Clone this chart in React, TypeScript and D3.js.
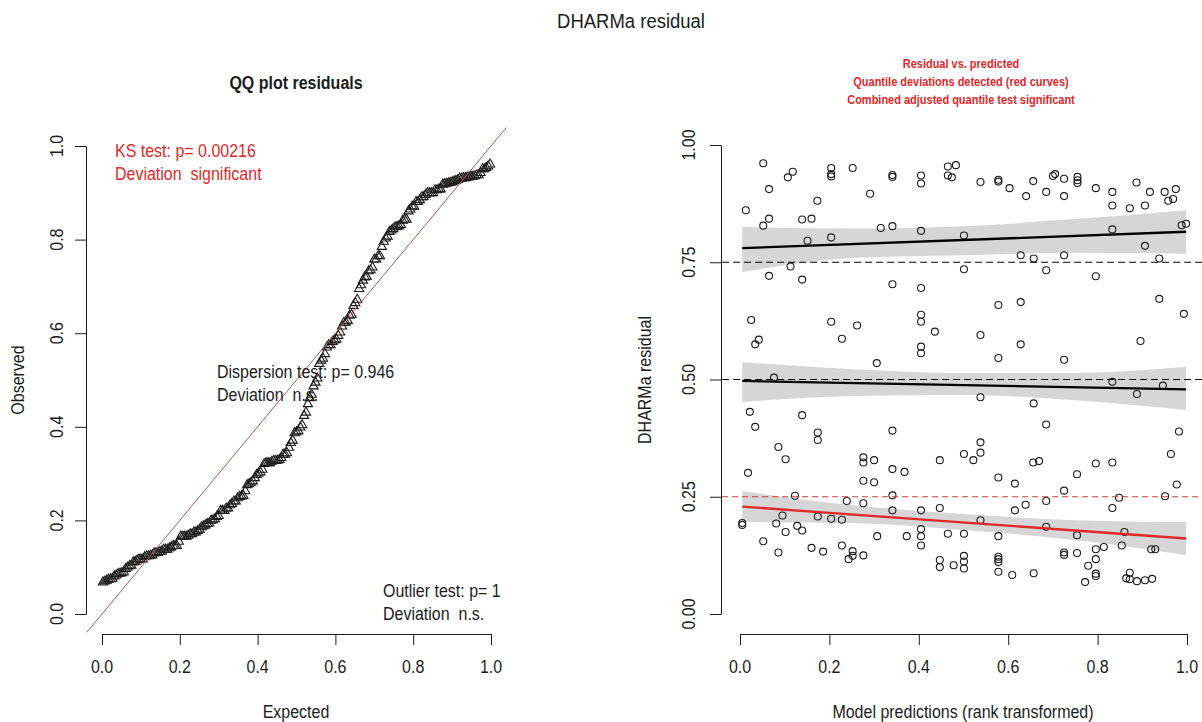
import React, { useEffect, useRef } from 'react';
import * as d3 from 'd3';

const W = 1202;
const H = 722;

// scaled residuals: [rank-transformed prediction, residual]
const residPoints: [number, number][] = [
  [0.052, 0.961], [0.118, 0.943], [0.107, 0.931], [0.204, 0.951], [0.204, 0.938], [0.204, 0.933],
  [0.252, 0.951], [0.065, 0.906], [0.291, 0.896], [0.173, 0.881], [0.013, 0.861], [0.065, 0.843],
  [0.052, 0.828], [0.139, 0.841], [0.160, 0.843], [0.315, 0.823], [0.151, 0.796], [0.204, 0.803],
  [0.113, 0.741], [0.065, 0.721], [0.139, 0.713], [0.025, 0.627], [0.204, 0.623], [0.262, 0.615],
  [0.042, 0.585], [0.034, 0.575], [0.228, 0.587], [0.306, 0.535], [0.076, 0.504],
  [0.341, 0.936], [0.341, 0.932], [0.405, 0.935], [0.405, 0.918], [0.465, 0.954], [0.483, 0.957],
  [0.465, 0.935], [0.474, 0.931], [0.538, 0.921], [0.578, 0.926], [0.578, 0.922], [0.603, 0.908],
  [0.656, 0.923], [0.640, 0.891], [0.341, 0.827], [0.405, 0.817], [0.501, 0.807], [0.628, 0.765],
  [0.657, 0.758], [0.501, 0.735], [0.341, 0.703], [0.405, 0.695], [0.578, 0.659], [0.628, 0.665],
  [0.405, 0.638], [0.405, 0.623], [0.436, 0.602], [0.538, 0.595], [0.405, 0.570], [0.405, 0.556],
  [0.628, 0.575], [0.578, 0.546],
  [0.685, 0.900], [0.700, 0.934], [0.705, 0.938], [0.725, 0.928], [0.725, 0.891], [0.755, 0.932],
  [0.755, 0.925], [0.755, 0.919], [0.796, 0.908], [0.833, 0.900], [0.833, 0.871], [0.872, 0.865],
  [0.887, 0.920], [0.906, 0.871], [0.917, 0.900], [0.950, 0.900], [0.975, 0.906], [0.958, 0.881],
  [0.969, 0.885], [0.833, 0.820], [0.988, 0.829], [0.998, 0.832], [0.906, 0.785], [0.725, 0.765],
  [0.938, 0.758], [0.685, 0.733], [0.796, 0.720], [0.938, 0.672], [0.993, 0.640], [0.896, 0.582],
  [0.725, 0.542], [0.833, 0.495], [0.946, 0.487],
  [0.022, 0.431], [0.139, 0.424], [0.034, 0.399], [0.174, 0.387], [0.174, 0.371], [0.086, 0.356],
  [0.102, 0.330], [0.276, 0.334], [0.276, 0.323], [0.300, 0.328], [0.018, 0.301], [0.276, 0.284],
  [0.300, 0.281], [0.123, 0.252], [0.239, 0.241], [0.276, 0.236], [0.095, 0.210], [0.174, 0.208],
  [0.204, 0.203], [0.228, 0.201], [0.005, 0.194], [0.005, 0.190], [0.081, 0.193], [0.128, 0.188],
  [0.139, 0.178], [0.102, 0.175], [0.307, 0.166], [0.052, 0.155], [0.086, 0.131], [0.160, 0.141],
  [0.186, 0.133], [0.228, 0.146], [0.252, 0.134], [0.252, 0.124], [0.243, 0.117], [0.276, 0.125],
  [0.538, 0.462], [0.657, 0.449], [0.341, 0.391], [0.538, 0.366], [0.501, 0.341], [0.522, 0.328],
  [0.538, 0.344], [0.447, 0.328], [0.656, 0.323], [0.669, 0.326], [0.341, 0.309], [0.368, 0.303],
  [0.578, 0.291], [0.615, 0.278], [0.341, 0.253], [0.341, 0.221], [0.405, 0.221], [0.447, 0.226],
  [0.639, 0.233], [0.615, 0.221], [0.538, 0.200], [0.373, 0.166], [0.405, 0.181], [0.405, 0.166],
  [0.405, 0.146], [0.465, 0.171], [0.501, 0.171], [0.578, 0.166], [0.447, 0.115], [0.447, 0.100],
  [0.478, 0.104], [0.501, 0.124], [0.501, 0.112], [0.501, 0.097], [0.578, 0.122], [0.578, 0.117],
  [0.578, 0.111], [0.578, 0.090], [0.609, 0.083], [0.657, 0.087],
  [0.888, 0.469], [0.685, 0.404], [0.982, 0.389], [0.796, 0.321], [0.833, 0.323], [0.964, 0.341],
  [0.754, 0.298], [0.725, 0.263], [0.977, 0.276], [0.685, 0.241], [0.848, 0.248], [0.833, 0.226],
  [0.951, 0.251], [0.685, 0.186], [0.754, 0.168], [0.860, 0.175], [0.854, 0.146], [0.796, 0.138],
  [0.814, 0.143], [0.725, 0.131], [0.725, 0.126], [0.754, 0.130], [0.796, 0.117], [0.779, 0.103],
  [0.796, 0.086], [0.796, 0.081], [0.772, 0.068], [0.920, 0.138], [0.929, 0.138], [0.872, 0.088],
  [0.864, 0.076], [0.872, 0.074], [0.888, 0.070], [0.906, 0.072], [0.922, 0.075],
];

const qqTicks = [0, 0.2, 0.4, 0.6, 0.8, 1.0];
const resYTicks = [0, 0.25, 0.5, 0.75, 1.0];
const quantiles = [0.25, 0.5, 0.75];

// quantile regression fits and their confidence bands
const bandX = [0.005, 0.25, 0.5, 0.75, 0.998];
const q25Upper = [0.262, 0.232, 0.213, 0.2, 0.196];
const q25Lower = [0.196, 0.194, 0.179, 0.158, 0.126];
const q50Upper = [0.537, 0.522, 0.514, 0.514, 0.527];
const q50Lower = [0.452, 0.465, 0.467, 0.456, 0.435];
const q75Upper = [0.825, 0.822, 0.827, 0.842, 0.861];
const q75Lower = [0.729, 0.759, 0.765, 0.77, 0.768];
const q25Fit = [0.229, 0.161];
const q50Fit = [0.497, 0.479];
const q75Fit = [0.78, 0.815];

const qqTexts = [
  { lines: ['KS test: p= 0.00216', 'Deviation  significant'], x: 115, y: 157, red: true },
  { lines: ['Dispersion test: p= 0.946', 'Deviation  n.s.'], x: 217, y: 378, red: false },
  { lines: ['Outlier test: p= 1', 'Deviation  n.s.'], x: 383, y: 597, red: false },
];
const resTitle = [
  'Residual vs. predicted',
  'Quantile deviations detected (red curves)',
  'Combined adjusted quantile test significant',
];

const FONT = '"Liberation Sans", Arial, sans-serif';
const INK = '#1c1c1c';
const RED = '#e0282a';
const SY = 1.12;

function txt(g: any, x: number, y: number, s: string, o: any = {}) {
  g.append('text')
    .attr('transform', `translate(${x},${y}) rotate(${o.rot || 0}) scale(1,${SY})`)
    .attr('text-anchor', o.anchor || 'start')
    .attr('font-size', o.size || 16)
    .attr('font-weight', o.weight || 'normal')
    .attr('fill', o.fill || INK)
    .style('white-space', 'pre')
    .text(s);
}

export default function App() {
  const ref = useRef<SVGSVGElement>(null);

  useEffect(() => {
    const svg = d3.select(ref.current);
    svg.selectAll('*').remove();
    svg.style('font-family', FONT);

    svg.append('rect').attr('width', W).attr('height', H).attr('fill', '#fff');

    txt(svg, 631, 28, 'DHARMa residual', { anchor: 'middle', size: 18.5 });

    // ---------- QQ plot ----------
    var qx = d3.scaleLinear().domain([0, 1]).range([102, 491]);
    var qy = d3.scaleLinear().domain([0, 1]).range([614, 146]);

    var defs = svg.append('defs');
    defs
      .append('clipPath')
      .attr('id', 'clipL')
      .append('rect')
      .attr('x', qx(-0.04))
      .attr('y', qy(1.04))
      .attr('width', qx(1.04) - qx(-0.04))
      .attr('height', qy(-0.04) - qy(1.04));

    var left = svg.append('g');
    var plotL = left.append('g').attr('clip-path', 'url(#clipL)');

    var obs = residPoints.map((d) => d[1]).sort(d3.ascending);
    var n = obs.length;
    var qq = obs.map((v, i) => ({ e: (i + 0.5) / n, o: v }));

    plotL
      .selectAll('path.tri')
      .data(qq)
      .enter()
      .append('path')
      .attr('class', 'tri')
      .attr('d', 'M0,-5.2L4.6,2.8L-4.6,2.8Z')
      .attr('transform', (d) => `translate(${qx(d.e)},${qy(d.o)})`)
      .attr('fill', 'none')
      .attr('stroke', INK)
      .attr('stroke-width', 1.1);

    plotL
      .append('line')
      .attr('x1', qx(-0.04))
      .attr('y1', qy(-0.04))
      .attr('x2', qx(1.04))
      .attr('y2', qy(1.04))
      .attr('stroke', '#b85555')
      .attr('stroke-width', 1);

    left
      .append('g')
      .attr('transform', 'translate(0,634)')
      .call(d3.axisBottom(qx).tickValues(qqTicks).tickSizeInner(11).tickSizeOuter(0).tickFormat(() => ''));
    left
      .append('g')
      .attr('transform', 'translate(86,0)')
      .call(d3.axisLeft(qy).tickValues(qqTicks).tickSizeInner(11).tickSizeOuter(0).tickFormat(() => ''));

    qqTicks.forEach((t) => {
      txt(left, qx(t), 673, d3.format('.1f')(t), { anchor: 'middle' });
      txt(left, 63, qy(t), d3.format('.1f')(t), { anchor: 'middle', rot: -90 });
    });

    txt(left, 296, 718, 'Expected', { anchor: 'middle' });
    txt(left, 24, 380, 'Observed', { anchor: 'middle', rot: -90 });
    txt(left, 296, 89, 'QQ plot residuals', { anchor: 'middle', size: 16, weight: 'bold' });

    qqTexts.forEach((t) => {
      t.lines.forEach((s, i) => {
        txt(left, t.x, t.y + i * 23, s, { fill: t.red ? RED : INK });
      });
    });

    // ---------- residual vs predicted ----------
    var rx = d3.scaleLinear().domain([0, 1]).range([740, 1187]);
    var ry = d3.scaleLinear().domain([0, 1]).range([614, 145]);

    defs
      .append('clipPath')
      .attr('id', 'clipR')
      .append('rect')
      .attr('x', rx(-0.04))
      .attr('y', ry(1.04))
      .attr('width', rx(1.04) - rx(-0.04))
      .attr('height', ry(-0.04) - ry(1.04));

    var right = svg.append('g');
    var plotR = right.append('g').attr('clip-path', 'url(#clipR)');

    var bands = [
      { up: q25Upper, lo: q25Lower, fit: q25Fit, col: RED },
      { up: q50Upper, lo: q50Lower, fit: q50Fit, col: '#000' },
      { up: q75Upper, lo: q75Lower, fit: q75Fit, col: '#000' },
    ];

    bands.forEach((b) => {
      var a = d3
        .area<number>()
        .x((d) => rx(d))
        .y0((d, i) => ry(b.lo[i]))
        .y1((d, i) => ry(b.up[i]))
        .curve(d3.curveMonotoneX);
      plotR.append('path').attr('d', a(bandX)).attr('fill', '#d6d6d6');
    });

    plotR
      .selectAll('circle')
      .data(residPoints)
      .enter()
      .append('circle')
      .attr('cx', (d) => rx(d[0]))
      .attr('cy', (d) => ry(d[1]))
      .attr('r', 3.5)
      .attr('fill', 'none')
      .attr('stroke', INK)
      .attr('stroke-width', 1.1);

    quantiles.forEach((q) => {
      plotR
        .append('line')
        .attr('x1', rx(-0.04))
        .attr('x2', rx(1.04))
        .attr('y1', ry(q))
        .attr('y2', ry(q))
        .attr('stroke', q === 0.25 ? '#c83a3a' : '#000')
        .attr('stroke-width', 1)
        .attr('stroke-dasharray', q === 0.25 ? '6,4' : '7,4');
    });

    bands.forEach((b) => {
      plotR
        .append('line')
        .attr('x1', rx(bandX[0]))
        .attr('x2', rx(bandX[bandX.length - 1]))
        .attr('y1', ry(b.fit[0]))
        .attr('y2', ry(b.fit[1]))
        .attr('stroke', b.col)
        .attr('stroke-width', 2.3);
    });

    right
      .append('g')
      .attr('transform', 'translate(0,634)')
      .call(d3.axisBottom(rx).tickValues(qqTicks).tickSizeInner(11).tickSizeOuter(0).tickFormat(() => ''));
    right
      .append('g')
      .attr('transform', 'translate(721,0)')
      .call(d3.axisLeft(ry).tickValues(resYTicks).tickSizeInner(11).tickSizeOuter(0).tickFormat(() => ''));

    qqTicks.forEach((t) => {
      txt(right, rx(t), 673, d3.format('.1f')(t), { anchor: 'middle' });
    });
    resYTicks.forEach((t) => {
      txt(right, 695, ry(t), d3.format('.2f')(t), { anchor: 'middle', rot: -90 });
    });

    txt(right, 963, 718, 'Model predictions (rank transformed)', { anchor: 'middle' });
    txt(right, 651, 380, 'DHARMa residual', { anchor: 'middle', rot: -90 });
    resTitle.forEach((s, i) => {
      txt(right, 961, 67.5 + i * 18, s, { anchor: 'middle', size: 11, weight: 'bold', fill: RED });
    });

    svg.selectAll('.domain, .tick line').attr('stroke', INK).attr('stroke-width', 1);
  }, []);

  return (
    <svg
      ref={ref}
      width={W}
      height={H}
      style={{ position: 'absolute', left: 0, top: 0, display: 'block' }}
    />
  );
}
